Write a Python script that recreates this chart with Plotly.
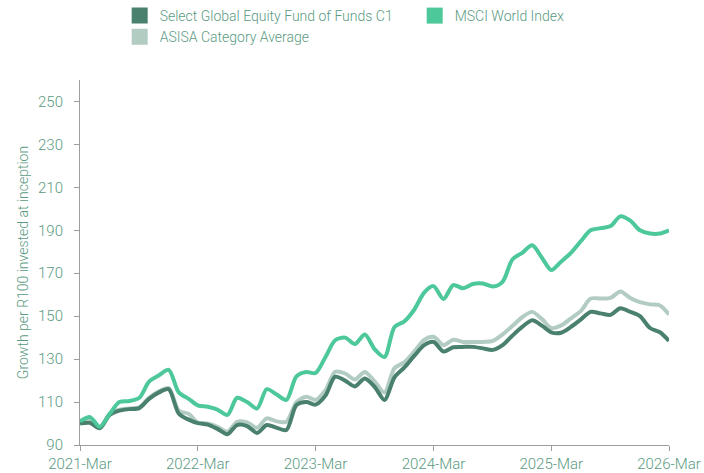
import plotly.graph_objects as go
import pandas as pd

dates = pd.date_range("2021-03-01", periods=61, freq="MS")

fund = [100, 100.3, 97.8, 104, 106, 106.7, 107.2, 111.5, 114.5, 116, 104.7, 101.8,
        100.2, 99.5, 97.5, 95, 99.3, 98.8, 95.6, 99.3, 98, 97, 108.6, 110,
        108.8, 113, 121.8, 120, 117.3, 121, 117, 111, 121.5, 126, 131.5, 136.5,
        138, 133.5, 135.5, 135.7, 135.7, 135, 134.3, 136.5, 141, 145, 148.1, 145.5,
        142.5, 142.3, 145, 148.5, 152, 151.3, 150.6, 153.7, 152, 150, 144.5, 142.5,
        138.5]

msci = [101, 103, 98.5, 104.5, 110, 110.5, 112, 119.5, 122.5, 125, 114.5, 111.5,
        108.5, 107.8, 106.5, 104, 112, 110, 107, 116, 113.5, 111, 122, 124,
        123.5, 131, 138.8, 140, 137, 141.5, 134.5, 131, 145, 147.5, 153, 161,
        164, 158, 164.5, 163, 165, 165.2, 163.8, 166, 176.5, 179.5, 183, 177,
        171.5, 175.5, 179.5, 185, 190, 191, 192, 196.5, 194.5, 190, 188.5, 188.5,
        190]

asisa = [100.5, 102, 98, 104.5, 106.5, 107, 107.5, 112, 115, 116.5, 106, 104.5,
         100.5, 100, 98.5, 96.2, 100.8, 100.5, 98, 102.4, 101, 100.8, 110, 112.5,
         111, 115.5, 124.1, 123.3, 120.5, 124, 119.5, 114.5, 125.8, 128.5, 133.5, 139,
         140.4, 136.5, 139, 138, 138, 138, 138.5, 141.5, 145.5, 149.5, 152, 148.5,
         144.5, 145.7, 149, 152.5, 158.2, 158.2, 158.5, 161.5, 158.5, 156.5, 155.5, 155,
         150.8]

names = ["Select Global Equity Fund of Funds C1", "MSCI World Index", "ASISA Category Average"]
colors = ["#4A806E", "#4CC89B", "#B2CCC2"]
series = [fund, msci, asisa]

tick_dates = ["2021-03-01", "2022-03-01", "2023-03-01", "2024-03-01", "2025-03-01", "2026-03-01"]
tick_labels = ["2021-Mar", "2022-Mar", "2023-Mar", "2024-Mar", "2025-Mar", "2026-Mar"]
y_ticks = [90, 110, 130, 150, 170, 190, 210, 230, 250]

text_color = "#5A9A82"
axis_color = "#9E9E9E"

fig = go.Figure()
for idx in [2, 0, 1]:
    fig.add_trace(go.Scatter(x=dates, y=series[idx], mode="lines",
                             line=dict(color=colors[idx], width=4, shape="spline", smoothing=0.8),
                             showlegend=False, hoverinfo="skip"))
for idx in [0, 1, 2]:
    fig.add_trace(go.Scatter(x=[None], y=[None], mode="markers", name=names[idx],
                             marker=dict(symbol="square", size=16, color=colors[idx]),
                             showlegend=True))

fig.update_layout(
    width=704, height=473,
    margin=dict(l=80, r=35, t=80, b=28, autoexpand=False),
    paper_bgcolor="white", plot_bgcolor="white",
    font=dict(family="Roboto", size=14, color=text_color, weight=300),
    legend=dict(orientation="h", xref="container", yref="container",
                x=0.17, xanchor="left", y=1.0, yanchor="top",
                entrywidth=250,
                font=dict(size=14, color=text_color, weight=300),
                itemsizing="trace"),
    xaxis=dict(type="date", range=["2021-03-01", "2026-03-01"],
               tickvals=tick_dates, ticktext=tick_labels, automargin=False,
               showgrid=False, zeroline=False, showline=True, linecolor=axis_color, linewidth=1,
               ticks="outside", ticklen=5, tickcolor=axis_color, ticklabelstandoff=0,
               tickfont=dict(size=15, color=text_color, weight=300)),
    yaxis=dict(range=[90, 260], tickvals=y_ticks, automargin=False,
               showgrid=False, zeroline=False, showline=True, linecolor=axis_color, linewidth=1,
               ticks="outside", ticklen=5, tickcolor=axis_color, ticklabelstandoff=8,
               tickfont=dict(size=15, color=text_color, weight=300),
               title=dict(text="Growth per R100 invested at inception",
                          font=dict(size=14, color=text_color, weight=300), standoff=6)),
)

fig.write_html("out.html", config={"displayModeBar": False},
               post_script="document.body.style.margin='0';document.body.style.overflow='hidden';")
